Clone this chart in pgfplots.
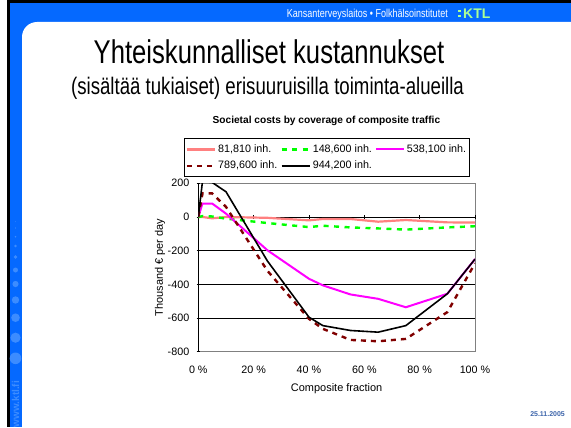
\documentclass[border=0pt]{standalone}
\usepackage{pgfplots}
\pgfplotsset{compat=1.18}
\usepackage{pgfplotstable}
\usepackage{fontspec}
\setmainfont{Liberation Sans}
\newfontfamily\narrowfont[FakeStretch=0.78]{Liberation Sans}

\definecolor{ktlblue}{RGB}{5,105,255}
\definecolor{bubble}{RGB}{60,140,255}
\definecolor{salmon}{RGB}{255,128,128}
\definecolor{lgreen}{RGB}{0,255,0}
\definecolor{mag}{RGB}{255,0,255}
\definecolor{dred}{RGB}{128,0,0}
\definecolor{logogreen}{RGB}{170,255,150}
\definecolor{datecol}{RGB}{60,100,170}

% x = composite fraction; a..e = the five population sizes (thousand EUR per day)
\pgfplotstableread{
x      a     b     c     d     e
0      0     0     0     0     0
0.015  0     5     80    140   210
0.05  -8     3     80    140   205
0.10   0    -10    20    60    150
0.25  -5    -36   -198  -320  -262
0.40  -20   -60   -367  -605  -595
0.45  -12   -52   -406  -664  -645
0.55  -12   -62   -460  -730  -674
0.65  -28   -68   -486  -738  -684
0.75  -18   -75   -536  -724  -645
0.90  -32   -62   -456  -565  -456
1.00  -33   -55   -250  -275  -250
}\costs

\begin{document}
\begin{tikzpicture}[x=1bp,y=1bp]
\path[use as bounding box] (0,0) rectangle (571,427);
\fill[white] (0,0) rectangle (571,427);
\fill[black] (7,0) rectangle (571,427);
\fill[ktlblue] (10,0) rectangle (571,424);
\fill[white] (22,0) -- (22,390) arc[start angle=180,end angle=90,radius=15] -- (571,405) -- (571,0) -- cycle;
\foreach \py/\r in {221.7/0.4, 228/0.6, 236.7/0.9, 246/1.4, 257/1.9, 270/2.5, 284/3.1, 300/3.7, 317.7/4.3, 337.7/5.1, 358.3/5.8}
  \fill[bubble] (15.5,{427-\py}) circle[radius=\r];
\node[rotate=90, text=bubble, font=\bfseries\fontsize{10}{11}\selectfont, inner sep=0] at (15.5,23) {www.ktl.fi};

\node[anchor=east, text=white, font=\narrowfont\fontsize{11.6}{13}\selectfont, inner sep=0] at (448,412) {Kansanterveyslaitos • Folkhälsoinstitutet};
\fill[logogreen] (457.5,417) rectangle +(3,-2.5);
\fill[logogreen] (457.5,412) rectangle +(3,-2.5);
\node[anchor=west, text=logogreen, font=\bfseries\fontsize{14}{15}\selectfont, inner sep=0] at (463,413.5) {KTL};

\node[anchor=base, font=\narrowfont\fontsize{33}{36}\selectfont, inner sep=0] at (269,364) {Yhteiskunnalliset kustannukset};
\node[anchor=base, font=\narrowfont\fontsize{24}{28}\selectfont, inner sep=0] at (267.5,333) {(sisältää tukiaiset) erisuuruisilla toiminta-alueilla};

\node[anchor=east, font=\bfseries\fontsize{7}{8}\selectfont, text=datecol, inner sep=0] at (565,13) {25.11.2005};

% background axis: frame, grid, labels
\begin{axis}[
  at={(198.3bp,75.3bp)}, anchor=south west, scale only axis,
  width=276.7bp, height=168.4bp,
  xmin=0, xmax=1, ymin=-800, ymax=200,
  xtick={0,0.2,0.4,0.6,0.8,1},
  xticklabels={0 \%,20 \%,40 \%,60 \%,80 \%,100 \%},
  ytick={-800,-600,-400,-200,0,200},
  yticklabels={-800,-600,-400,-200,0,200},
  major tick length=0pt,
  ymajorgrids, grid style={black, line width=0.6bp},
  axis line style={draw=gray, line width=0.8bp},
  tick label style={font=\fontsize{10.8}{12}\selectfont},
  xticklabel style={anchor=center, yshift=-17.6bp},
  yticklabel style={anchor=east, xshift=-5.5bp},
  xlabel={Composite fraction},
  xlabel style={at={(axis description cs:0.5,-0.22)}, anchor=center, font=\fontsize{11}{12}\selectfont},
  ylabel={Thousand € per day},
  ylabel style={at={(axis description cs:-0.138,0.5)}, anchor=center, font=\fontsize{11}{12}\selectfont},
  title={Societal costs by coverage of composite traffic},
  title style={at={(axis description cs:0.463,1.334)}, anchor=center, font=\bfseries\fontsize{10.2}{12}\selectfont},
]
\end{axis}

% overlay axis: black axis lines, ticks, data, legend
\begin{axis}[
  at={(198.3bp,75.3bp)}, anchor=south west, scale only axis,
  width=276.7bp, height=168.4bp,
  xmin=0, xmax=1, ymin=-800, ymax=200,
  axis x line=middle, axis y line=left,
  x axis line style={-, black, line width=0.8bp},
  y axis line style={-, black, line width=0.8bp},
  xtick={0.2,0.4,0.6,0.8,1},
  ytick={-800,-600,-400,-200,0,200},
  xticklabels={}, yticklabels={},
  tick align=center, major tick length=3.5bp,
  tick style={black, line width=0.6bp},
  hide obscured x ticks=false, hide obscured y ticks=false,
  legend columns=3,
  legend cell align=left,
  legend image code/.code={\draw[#1] (0bp,0bp) -- (28bp,0bp);},
  legend style={at={(axis description cs:-0.052,1.266)}, anchor=north west,
    draw=black, line width=0.7bp, font=\fontsize{10.8}{12}\selectfont,
    inner xsep=1.5bp, inner ysep=4bp, row sep=3bp,
    /tikz/every even column/.append style={column sep=1bp}},
]
\addplot[salmon, line width=2.2bp] table[x=x, y=a] {\costs};
\addlegendentry{81,810 inh.}
\addplot[lgreen, line width=2.4bp, dash pattern=on 5bp off 5.5bp] table[x=x, y=b] {\costs};
\addlegendentry{148,600 inh.}
\addplot[mag, line width=2bp] table[x=x, y=c] {\costs};
\addlegendentry{538,100 inh.}
\addplot[dred, line width=2.4bp, dash pattern=on 5bp off 5bp] table[x=x, y=d] {\costs};
\addlegendentry{789,600 inh.}
\addplot[black, line width=1.6bp] table[x=x, y=e] {\costs};
\addlegendentry{944,200 inh.}
\end{axis}
\end{tikzpicture}
\end{document}
